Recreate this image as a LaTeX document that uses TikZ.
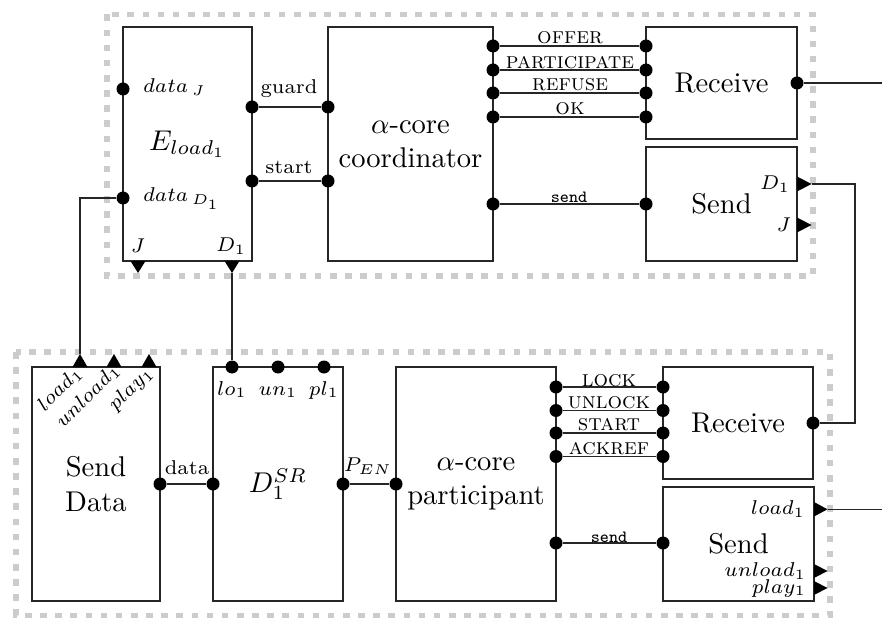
\documentclass[tikz,border=0pt]{standalone}
\usetikzlibrary{fit}
\newlength\pxu
\setlength\pxu{0.35pt}
\begin{document}
\begin{tikzpicture}[x=0.35pt,y=-0.35pt,
  box/.style={draw=black!85,line width=0.45pt,fill=white,inner sep=0pt},
  port/.style={circle,fill=black,inner sep=0pt,minimum size=13\pxu},
  frame/.style={draw=black!20,line width=2pt,dash pattern=on 2.3pt off 3pt},
  wire/.style={draw=black!85,line width=0.4pt},
  tip/.style={fill=black},
  lbl/.style={font=\scriptsize,inner sep=0.5pt},
  sig/.style={font=\footnotesize\scshape,inner sep=0pt},
  cmd/.style={font=\fontsize{6}{7}\selectfont\ttfamily,inner sep=0pt},
  big/.style={font=\normalsize,align=center,inner sep=0pt}]
\useasboundingbox (0,0) rectangle (882,621);

% group frames
\draw[frame] (107,14.5) rectangle (813,276);
\draw[frame] (16,352) rectangle (830,615.5);

% boxes
\node[box,fit={(123,27)(252,261)}] (E) {};
\node[box,fit={(328,27)(493,261)}] (C) {};
\node[box,fit={(646,27)(797,139)}] (R) {};
\node[box,fit={(646,147)(797,261)}] (S) {};
\node[box,fit={(32,367)(160,601)}] (SD) {};
\node[box,fit={(213,367)(343,601)}] (D) {};
\node[box,fit={(396,367)(556,601)}] (P) {};
\node[box,fit={(663,367)(813,479)}] (Q) {};
\node[box,fit={(663,487)(814,601)}] (T) {};

% big labels
\node[big] (Et) at (E.center) {$E_{load_1}$};
\node[big] (Ct) at (C.center) {$\alpha$-core\\coordinator};
\node[big] (Rt) at (R.center) {Receive};
\node[big] (St) at (S.center) {Send};
\node[big] (SDt) at (SD.center) {Send\\Data};
\node[big] (Dt) at (D.center) {$D_1^{SR}$};
\node[big] (Pt) at (P.center) {$\alpha$-core\\participant};
\node[big] (Qt) at (Q.center) {Receive};
\node[big] (Tt) at (T.center) {Send};

% ports
\node[port] (EdJ) at (123,89) {};
\node[port] (EdD) at (123,198) {};
\node[port] (Eg) at (252,107) {};
\node[port] (Es) at (252,181) {};
\node[port] (Cg) at (328,107) {};
\node[port] (Cs) at (328,181) {};
\node[port] (Co1) at (493,46) {};
\node[port] (Co2) at (493,70) {};
\node[port] (Co3) at (493,93) {};
\node[port] (Co4) at (493,117) {};
\node[port] (Csend) at (493,204) {};
\node[port] (Ri1) at (646,46) {};
\node[port] (Ri2) at (646,70) {};
\node[port] (Ri3) at (646,93) {};
\node[port] (Ri4) at (646,117) {};
\node[port] (Rout) at (797,83) {};
\node[port] (Sin) at (646,204) {};
\node[port] (SDd) at (160,484) {};
\node[port] (Dd) at (213,484) {};
\node[port] (Dlo) at (232,367) {};
\node[port] (Dun) at (278,367) {};
\node[port] (Dpl) at (324,367) {};
\node[port] (Dp) at (343,484) {};
\node[port] (Pp) at (396,484) {};
\node[port] (Po1) at (556,387) {};
\node[port] (Po2) at (556,410.5) {};
\node[port] (Po3) at (556,433) {};
\node[port] (Po4) at (556,456.5) {};
\node[port] (Psend) at (556,543) {};
\node[port] (Qi1) at (663,387) {};
\node[port] (Qi2) at (663,410.5) {};
\node[port] (Qi3) at (663,433) {};
\node[port] (Qi4) at (663,456.5) {};
\node[port] (Qout) at (813,423) {};
\node[port] (Tin) at (663,543) {};

% triangles (output pins)
\fill[tip] (130.5,261) -- (145.5,261) -- (138,273) -- cycle;
\coordinate (EJt) at (138,273);
\fill[tip] (224.5,261) -- (239.5,261) -- (232,273) -- cycle;
\coordinate (EDt) at (232,273);
\fill[tip] (797,176.5) -- (797,191.5) -- (811.5,184) -- cycle;
\coordinate (SDonet) at (811.5,184);
\fill[tip] (797,217.5) -- (797,232.5) -- (811.5,225) -- cycle;
\coordinate (SJt) at (811.5,225);
\fill[tip] (72.5,367) -- (87.5,367) -- (80,354) -- cycle;
\coordinate (SDa) at (80,354);
\fill[tip] (106.5,367) -- (121.5,367) -- (114,354) -- cycle;
\coordinate (SDb) at (114,354);
\fill[tip] (141.5,367) -- (156.5,367) -- (149,354) -- cycle;
\coordinate (SDc) at (149,354);
\fill[tip] (814,502) -- (814,516.5) -- (827.5,509.3) -- cycle;
\coordinate (Tload) at (827.5,509.3);
\fill[tip] (814,564) -- (814,578) -- (827.5,571) -- cycle;
\coordinate (Tunload) at (827.5,571);
\fill[tip] (814,581) -- (814,595) -- (827.5,588) -- cycle;
\coordinate (Tplay) at (827.5,588);

% wires
\draw[wire] (Eg) -- (Cg);
\draw[wire] (Es) -- (Cs);
\draw[wire] (Co1) -- (Ri1);
\draw[wire] (Co2) -- (Ri2);
\draw[wire] (Co3) -- (Ri3);
\draw[wire] (Co4) -- (Ri4);
\draw[wire] (Csend) -- (Sin);
\draw[wire] (SDd) -- (Dd);
\draw[wire] (Dp) -- (Pp);
\draw[wire] (Po1) -- (Qi1);
\draw[wire] (Po2) -- (Qi2);
\draw[wire] (Po3) -- (Qi3);
\draw[wire] (Po4) -- (Qi4);
\draw[wire] (Psend) -- (Tin);
\draw[wire] (EdD) -| (SDa);
\draw[wire] (EDt) -- (Dlo);
\coordinate (bend) at (855,184);
\draw[wire] (SDonet) -- (bend) |- (Qout);
\coordinate (outR) at (882,83);
\draw[wire] (Rout) -- (outR);
\coordinate (outT) at (882,509.3);
\draw[wire] (Tload) -- (outT);

% small labels
\node[lbl,anchor=base west] (lEdJ) at (141,93) {$data_{\,J}$};
\node[lbl,anchor=base west] (lEdD) at (141,202) {$data_{\,D_1}$};
\node[lbl] (lJ) at (138,246) {$J$};
\node[lbl] (lD) at (231,246) {$D_1$};
\node[lbl] (lg) at (289,89) {guard};
\node[lbl] (ls) at (289,167) {start};
\node[sig] (l1) at (570,38) {offer};
\node[sig] (l2) at (570,62.5) {participate};
\node[sig] (l3) at (570,85) {refuse};
\node[sig] (l4) at (570,108.5) {ok};
\node[cmd] (lsend1) at (569,197) {send};
\node[lbl,anchor=east] (lSD1) at (792,184) {$D_1$};
\node[lbl,anchor=east] (lSJ) at (793,225) {$J$};
\node[lbl,rotate=45] (la) at (60,389) {$load_1$};
\node[lbl,rotate=45] (lb) at (88,396) {$unload_1$};
\node[lbl,rotate=45] (lc) at (131,389) {$play_1$};
\node[lbl] (ldata) at (187,468) {data};
\node[lbl,anchor=base] (llo) at (232,395) {$lo_1$};
\node[lbl,anchor=base] (lun) at (278,395) {$un_1$};
\node[lbl,anchor=base] (lpl) at (324,395) {$pl_1$};
\node[lbl] (lpen) at (368,466) {$P_{EN}$};
\node[sig] (m1) at (609,380.5) {lock};
\node[sig] (m2) at (609,403) {unlock};
\node[sig] (m3) at (609,425) {start};
\node[sig] (m4) at (609,448.5) {ackref};
\node[cmd] (lsend2) at (609,537) {send};
\node[lbl,anchor=east] (lTl) at (807,509) {$load_1$};
\node[lbl,anchor=east] (lTu) at (808,571) {$unload_1$};
\node[lbl,anchor=east] (lTp) at (808,588) {$play_1$};
\end{tikzpicture}
\end{document}
